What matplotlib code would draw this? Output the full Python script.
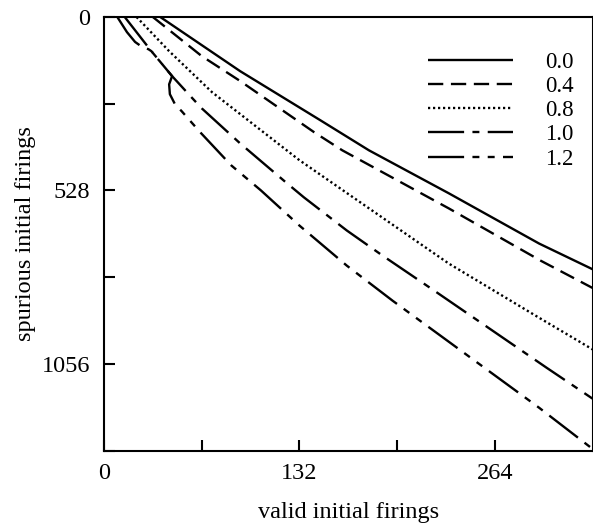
import matplotlib
matplotlib.use("Agg")
import matplotlib.pyplot as plt

plt.rcParams['font.family'] = ['Liberation Serif', 'DejaVu Serif']
plt.rcParams['lines.scale_dashes'] = False

# ---- data ----
labels = ["0.0", "0.4", "0.8", "1.0", "1.2"]

x_00 = [38, 92, 146, 179, 233, 294, 330]
y_00 = [0, 165, 314, 406, 537, 690, 768]

x_04 = [33, 66, 92, 142, 161, 233, 295, 330]
y_04 = [0, 119, 195, 351, 406, 583, 742, 825]

x_08 = [22, 44, 73, 132, 233, 294, 330]
y_08 = [0, 104, 229, 436, 751, 916, 1012]

x_10 = [14, 32, 46, 59, 66, 92, 123, 135, 164, 188, 223, 299, 330]
y_10 = [0, 104, 180, 244, 278, 385, 504, 549, 650, 726, 833, 1068, 1162]

x_12 = [9, 15.5, 21, 26, 30, 32, 46, 44, 44.5, 48, 52.5, 65, 86, 106, 132, 164, 195, 294, 330]
y_12 = [0, 46, 76, 92, 98, 104, 180, 205, 235, 266, 287, 351, 452, 528, 635, 757, 864, 1190, 1315]

x_ticks = [0, 66, 132, 198, 264]
x_ticklabels = ["0", "", "132", "", "264"]
y_ticks = [0, 264, 528, 792, 1056, 1320]
y_ticklabels = ["0", "", "528", "", "1056", ""]

# ---- figure ----
fig = plt.figure(figsize=(5.93, 5.25), dpi=100)
ax = fig.add_axes([104 / 593, 74.5 / 525, 488.5 / 593, 433.5 / 525])

styles = [
    '-',
    (0, (11, 5.5)),
    (0, (1.6, 2.0)),
    (0, (26, 6, 5, 6)),
    (0, (26, 6, 5, 6, 5, 6)),
]
series = [(x_00, y_00), (x_04, y_04), (x_08, y_08), (x_10, y_10), (x_12, y_12)]
for (xs, ys), ls, lab in zip(series, styles, labels):
    ax.plot(xs, ys, color='black', lw=1.7, linestyle=ls, label=lab,
            dash_capstyle='butt', solid_capstyle='butt')

ax.set_xlim(0, 330)
ax.set_ylim(1320, 0)

ax.set_xticks(x_ticks)
ax.set_xticklabels(x_ticklabels)
ax.set_yticks(y_ticks)
ax.set_yticklabels(y_ticklabels)
ax.tick_params(direction='in', length=8, width=1.5, labelsize=17.5)
ax.tick_params(axis='x', pad=9)
ax.tick_params(axis='y', pad=10)

for sp in ax.spines.values():
    sp.set_linewidth(1.5)

ax.set_xlabel("valid initial firings", fontsize=17.5, labelpad=13)
ax.set_ylabel("spurious initial firings", fontsize=17.5, labelpad=4)

leg = ax.legend(loc='upper left', bbox_to_anchor=(0.664, 0.92), frameon=False,
                fontsize=16.5, handlelength=3.7, handletextpad=1.4,
                labelspacing=0.14, borderpad=0, borderaxespad=0)

fig.savefig("out.png", dpi=100)
